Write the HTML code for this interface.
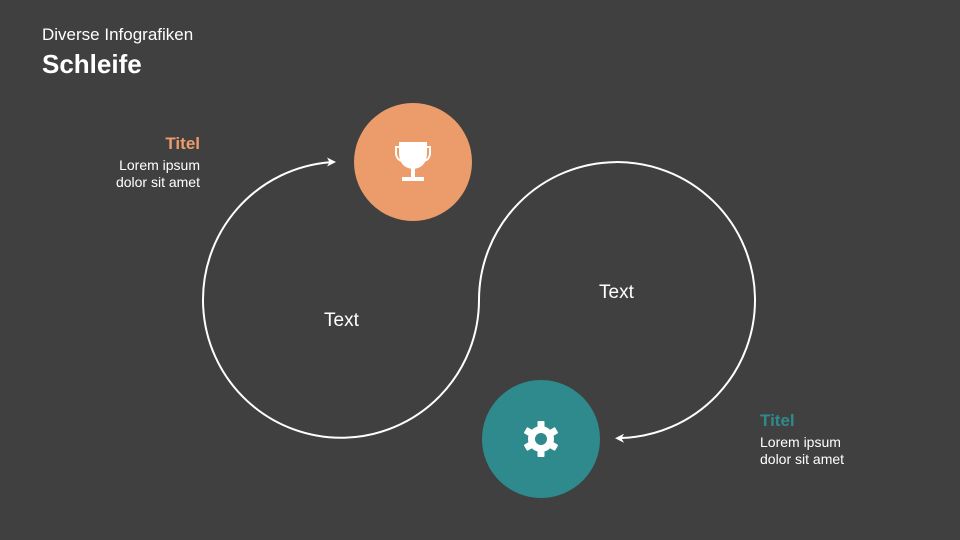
<!DOCTYPE html>
<html><head><meta charset="utf-8"><style>
body{margin:0;width:960px;height:540px;background:#404040;overflow:hidden;font-family:"Liberation Sans",sans-serif;color:#fff;position:relative}
.t{position:absolute;white-space:nowrap}
</style></head><body>
<div class="t" style="left:42px;top:25px;font-size:17px">Diverse Infografiken</div>
<div class="t" style="left:42px;top:49px;font-size:26px;font-weight:bold">Schleife</div>
<div class="t" style="right:760px;top:134px;font-size:17px;font-weight:bold;color:#EC9C6B;text-align:right">Titel</div>
<div class="t" style="right:760px;top:157px;font-size:14px;line-height:17px;text-align:right">Lorem ipsum<br>dolor sit amet</div>
<div class="t" style="left:760px;top:411px;font-size:17px;font-weight:bold;color:#2E8A8C">Titel</div>
<div class="t" style="left:760px;top:434px;font-size:14px;line-height:17px">Lorem ipsum<br>dolor sit amet</div>
<div class="t" style="left:324px;top:310px;font-size:19px">Text</div>
<div class="t" style="left:599px;top:282px;font-size:19px">Text</div>
<svg width="960" height="540" style="position:absolute;left:0;top:0">
<path d="M330 162.2 A138 138 0 1 0 479 300 A138 138 0 1 1 621 438" fill="none" stroke="#fff" stroke-width="2"/>
<path d="M336 162 L327 157.5 L329.5 162.2 L327 166.5 Z" fill="#fff"/>
<path d="M615 438.2 L624 433.7 L621.5 438.2 L624 442.7 Z" fill="#fff"/>
<circle cx="413" cy="162" r="59" fill="#EC9C6B"/>
<circle cx="541" cy="439" r="59" fill="#2E8A8C"/>
<g fill="#fff" stroke="#fff">
<path d="M399 142 H427 V152 Q427 168 413 169 Q399 168 399 152 Z" stroke="none"/>
<path d="M399 147 H396 V154 Q397 160 402 161 M427 147 H430 V154 Q429 160 424 161" fill="none" stroke-width="2"/>
<rect x="411" y="168" width="4" height="10" stroke="none"/>
<rect x="402" y="177" width="22" height="4" stroke="none"/>
</g>
<g transform="translate(541,439)">
<g fill="#fff">
<rect x="-3.5" y="-18" width="7" height="36" rx="1"/>
<rect x="-3.5" y="-18" width="7" height="36" rx="1" transform="rotate(60)"/>
<rect x="-3.5" y="-18" width="7" height="36" rx="1" transform="rotate(120)"/>
<circle r="13"/>
</g>
<circle r="6" fill="#2E8A8C"/>
</g>
</svg>
</body></html>
